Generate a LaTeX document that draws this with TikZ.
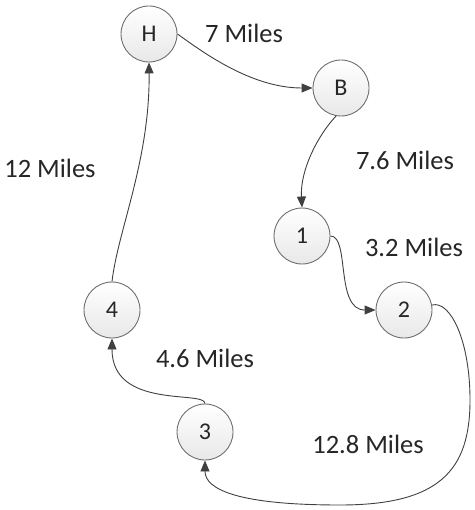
\documentclass[tikz,border=0pt]{standalone}
\usepackage{fontspec}
\setmainfont{Carlito}
\usetikzlibrary{arrows.meta}
\definecolor{edgec}{HTML}{404040}
\definecolor{ringc}{HTML}{6E6E6E}
\begin{document}
\begin{tikzpicture}[x=1pt,y=-1pt,
  city/.style={circle,draw=ringc,line width=0.9pt,minimum size=56pt,inner sep=0pt,
    top color=white,bottom color=gray!18,font=\fontsize{24}{28}\selectfont,text=black!85},
  route/.style={draw=edgec,line width=0.9pt,-{Triangle[length=11pt,width=9pt]}},
  dist/.style={font=\fontsize{26.5}{30}\selectfont,text=black!85,inner sep=0pt}]
\useasboundingbox (0,0) rectangle (474,510);
\node[city] (H) at (149,34) {H};
\node[city] (B) at (341,88) {B};
\node[city] (n1) at (302,236) {1};
\node[city] (n2) at (404,310) {2};
\node[city] (n4) at (112,310) {4};
\node[city] (n3) at (205,432) {3};
\node[dist] (lHB) at (244,33) {7 Miles};
\node[dist] (lB1) at (405,160) {7.6 Miles};
\node[dist] (l12) at (414,247) {3.2 Miles};
\node[dist] (l4H) at (50,168) {12 Miles};
\node[dist] (l34) at (205,358) {4.6 Miles};
\node[dist] (l23) at (368,444) {12.8 Miles};
\draw[route] (H.east) .. controls (200,50) and (250,88) .. (B.west);
\draw[route] (B.-100) .. controls (318,135) and (300,170) .. (n1.north);
\draw[route] (n1.east) .. controls (350,236) and (335,310) .. (n2.west);
\draw[route] (n2.10) .. controls (450,300) and (470,340) .. (470,400)
  .. controls (470,470) and (440,505) .. (340,505)
  .. controls (240,505) and (205,490) .. (n3.south);
\draw[route] (n3.north) .. controls (205,390) and (112,410) .. (n4.south);
\draw[route] (n4.north) .. controls (118,230) and (150,160) .. (H.south);
\end{tikzpicture}
\end{document}
